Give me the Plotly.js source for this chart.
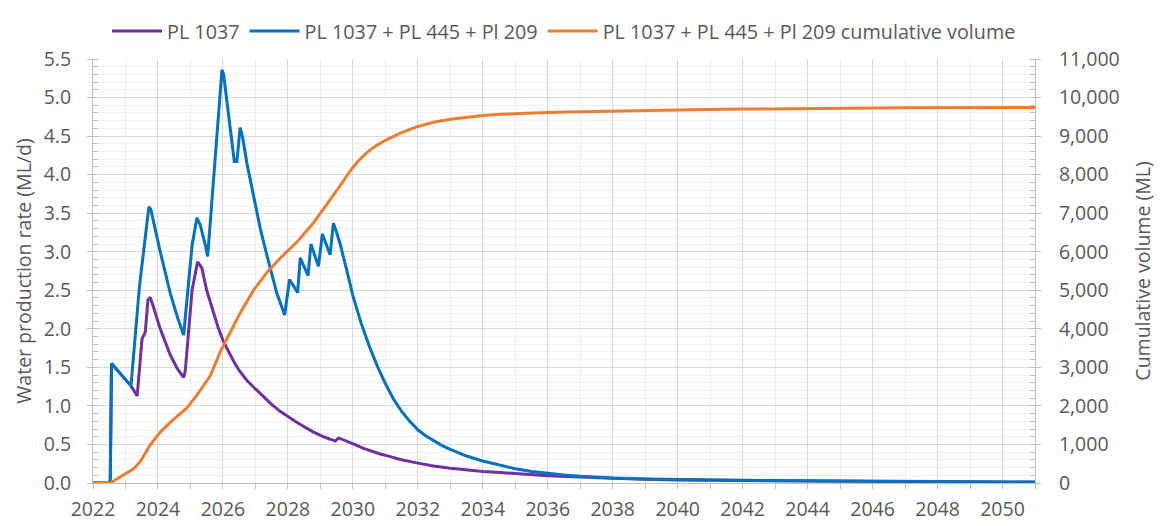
<!DOCTYPE html>
<html>
<head>
<meta charset="utf-8">
<script src="https://cdn.plot.ly/plotly-3.0.1.min.js"></script>
<style>html,body{margin:0;padding:0;background:#fff;}#chart{width:1161px;height:526px;}</style>
</head>
<body>
<div id="chart"></div>
<script>
// PL 1037 water production rate (ML/d)
var pl1037Years = [2022.0, 2022.53, 2022.57, 2023.17, 2023.36, 2023.51, 2023.61, 2023.69, 2023.76, 2023.85, 2024.07, 2024.38, 2024.6, 2024.79, 2024.84, 2025.05, 2025.22, 2025.35, 2025.5, 2025.71, 2025.85, 2026.02, 2026.17, 2026.33, 2026.5, 2026.74, 2027.0, 2027.25, 2027.5, 2027.76, 2028.0, 2028.28, 2028.5, 2028.79, 2029.1, 2029.46, 2029.56, 2029.82, 2030.05, 2030.33, 2030.6, 2030.84, 2031.1, 2031.46, 2032.0, 2032.48, 2033.0, 2033.5, 2034.0, 2034.53, 2035.0, 2035.56, 2036.0, 2036.58, 2037.0, 2037.6, 2038.0, 2039.0, 2040.0, 2042.0, 2044.0, 2048.0, 2051.0];
var pl1037Rate = [0, 0, 1.55, 1.26, 1.13, 1.87, 1.96, 2.37, 2.41, 2.3, 2.0, 1.66, 1.48, 1.37, 1.45, 2.5, 2.87, 2.79, 2.5, 2.21, 2.02, 1.83, 1.7, 1.58, 1.46, 1.33, 1.22, 1.12, 1.02, 0.93, 0.86, 0.786, 0.73, 0.66, 0.6, 0.544, 0.585, 0.544, 0.5, 0.45, 0.41, 0.376, 0.348, 0.305, 0.258, 0.22, 0.19, 0.167, 0.15, 0.135, 0.12, 0.105, 0.095, 0.085, 0.076, 0.066, 0.06, 0.05, 0.04, 0.032, 0.025, 0.016, 0.01];

// PL 1037 + PL 445 + Pl 209 water production rate (ML/d)
var combinedYears = [2022.0, 2022.53, 2022.57, 2023.17, 2023.43, 2023.72, 2023.78, 2024.07, 2024.38, 2024.6, 2024.79, 2025.05, 2025.2, 2025.3, 2025.45, 2025.53, 2025.97, 2026.02, 2026.35, 2026.43, 2026.53, 2026.6, 2026.75, 2026.94, 2027.15, 2027.35, 2027.66, 2027.9, 2028.05, 2028.3, 2028.38, 2028.62, 2028.71, 2028.94, 2029.06, 2029.3, 2029.4, 2029.5, 2029.61, 2029.8, 2029.92, 2030.0, 2030.25, 2030.5, 2030.75, 2031.0, 2031.25, 2031.5, 2031.75, 2032.0, 2032.25, 2032.5, 2032.75, 2033.0, 2033.5, 2034.0, 2034.5, 2035.0, 2035.5, 2036.0, 2036.5, 2037.0, 2037.5, 2038.0, 2039.0, 2040.0, 2042.0, 2044.0, 2046.0, 2048.0, 2051.0];
var combinedRate = [0, 0, 1.55, 1.26, 2.55, 3.58, 3.55, 3.0, 2.46, 2.15, 1.92, 3.08, 3.44, 3.35, 3.1, 2.94, 5.36, 5.3, 4.17, 4.17, 4.61, 4.5, 4.12, 3.71, 3.3, 2.96, 2.46, 2.18, 2.64, 2.47, 2.92, 2.69, 3.1, 2.81, 3.23, 2.96, 3.37, 3.25, 3.1, 2.78, 2.58, 2.43, 2.08, 1.78, 1.52, 1.29, 1.09, 0.93, 0.8, 0.69, 0.61, 0.545, 0.485, 0.435, 0.35, 0.285, 0.23, 0.185, 0.15, 0.125, 0.105, 0.088, 0.075, 0.065, 0.053, 0.045, 0.035, 0.03, 0.025, 0.018, 0.012];

// PL 1037 + PL 445 + Pl 209 cumulative volume (ML)
var cumulativeYears = [2022.0, 2022.53, 2023.25, 2023.46, 2023.76, 2024.07, 2024.48, 2024.89, 2025.2, 2025.61, 2025.92, 2026.12, 2026.53, 2026.94, 2027.35, 2027.76, 2028.28, 2028.79, 2029.3, 2029.6, 2029.92, 2030.15, 2030.43, 2030.7, 2031.0, 2031.46, 2032.0, 2032.48, 2033.0, 2033.5, 2034.0, 2034.53, 2035.0, 2035.56, 2036.58, 2037.6, 2040.0, 2042.0, 2044.0, 2047.0, 2051.0];
var cumulativeVolume = [0, 0, 370, 560, 987, 1320, 1654, 1947, 2281, 2782, 3409, 3744, 4411, 4997, 5456, 5832, 6251, 6752, 7336, 7700, 8100, 8340, 8570, 8740, 8890, 9075, 9250, 9358, 9435, 9491, 9535, 9566, 9585, 9600, 9625, 9645, 9675, 9700, 9718, 9733, 9740];

var seriesNames = ['PL 1037', 'PL 1037 + PL 445 + Pl 209', 'PL 1037 + PL 445 + Pl 209 cumulative volume'];

var FONT = 'Open Sans, Lato, sans-serif';
var TXT = '#595959';

var traces = [
  {x: pl1037Years, y: pl1037Rate, name: seriesNames[0], type: 'scatter', mode: 'lines',
   line: {color: '#7030a0', width: 3}},
  {x: combinedYears, y: combinedRate, name: seriesNames[1], type: 'scatter', mode: 'lines',
   line: {color: '#0070c0', width: 3}},
  {x: cumulativeYears, y: cumulativeVolume, name: seriesNames[2], type: 'scatter', mode: 'lines',
   yaxis: 'y2', line: {color: '#ed7d31', width: 3}}
];

var layout = {
  width: 1161, height: 526,
  margin: {l: 93, r: 126, t: 44, b: 43},
  paper_bgcolor: '#ffffff', plot_bgcolor: '#ffffff',
  font: {family: FONT, size: 19.5, color: TXT},
  showlegend: true,
  legend: {orientation: 'h', x: 0.5, xanchor: 'center', y: 1.066, yanchor: 'middle',
           itemwidth: 50, tracegroupgap: 0,
           font: {family: FONT, size: 19.8, color: TXT}, bgcolor: 'rgba(0,0,0,0)'},
  xaxis: {
    range: [2022, 2051], tick0: 2022, dtick: 2, tickformat: 'd',
    showgrid: true, gridcolor: '#d9d9d9', gridwidth: 1,
    ticks: 'outside', ticklen: 5, tickcolor: '#bfbfbf',
    showline: true, linecolor: '#bfbfbf', linewidth: 1,
    zeroline: false, ticklabelstandoff: 4,
    tickfont: {family: FONT, size: 19.5, color: TXT},
    minor: {dtick: 1, showgrid: true, gridcolor: '#eeeeee', ticks: 'outside', ticklen: 5, tickcolor: '#bfbfbf'}
  },
  yaxis: {
    range: [0, 5.5], dtick: 0.5, tick0: 0, tickformat: '.1f',
    showgrid: true, gridcolor: '#d9d9d9', gridwidth: 1,
    ticks: 'outside', ticklen: 5, tickcolor: '#bfbfbf',
    showline: true, linecolor: '#bfbfbf', zeroline: false,
    ticklabelstandoff: 12,
    tickfont: {family: FONT, size: 19.5, color: TXT},
    title: {text: 'Water production rate (ML/d)', font: {family: FONT, size: 19.5, color: TXT}, standoff: 6},
    minor: {dtick: 0.1, showgrid: true, gridcolor: '#f0f0f0', ticks: 'inside', ticklen: 5, tickcolor: '#bfbfbf'}
  },
  yaxis2: {
    overlaying: 'y', side: 'right',
    range: [0, 11000], dtick: 1000, tick0: 0, tickformat: ',d',
    showgrid: false, zeroline: false,
    ticks: 'outside', ticklen: 5, tickcolor: '#bfbfbf',
    showline: true, linecolor: '#bfbfbf',
    ticklabelstandoff: 14,
    tickfont: {family: FONT, size: 19.5, color: TXT},
    title: {text: 'Cumulative volume (ML)', font: {family: FONT, size: 19.5, color: TXT}, standoff: 17},
    minor: {dtick: 200, ticks: 'inside', ticklen: 5, tickcolor: '#bfbfbf', showgrid: false}
  }
};

Plotly.newPlot('chart', traces, layout, {staticPlot: true, displayModeBar: false});
</script>
</body>
</html>
